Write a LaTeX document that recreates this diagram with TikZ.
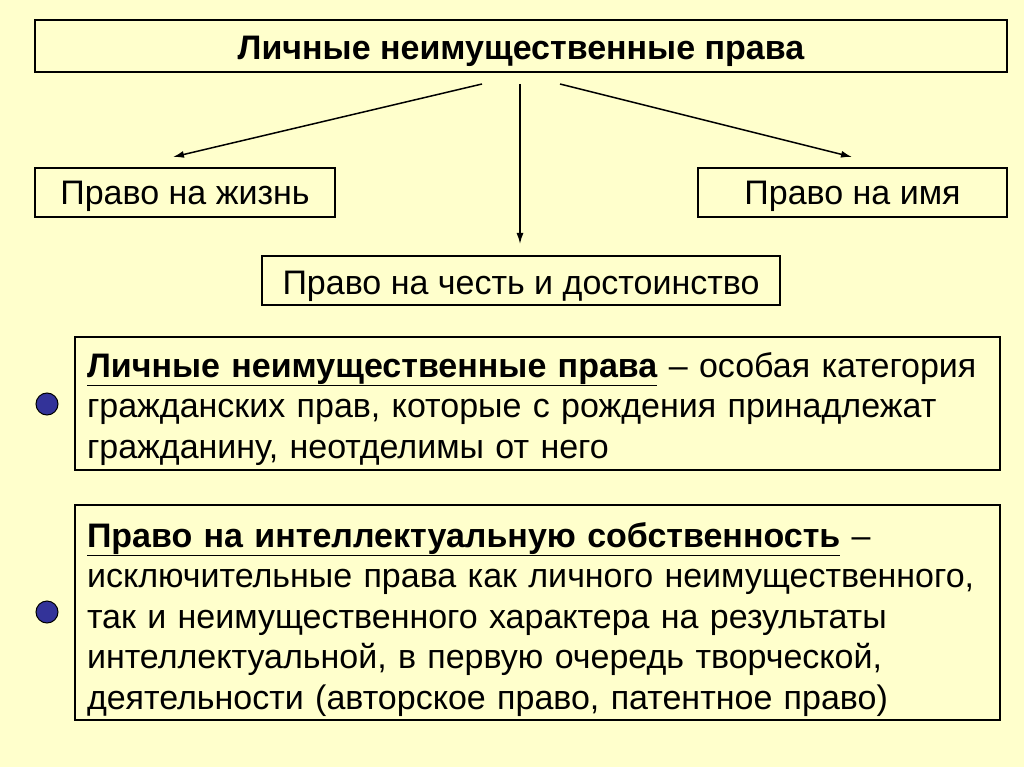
\documentclass[tikz,border=0pt]{standalone}
\usepackage{fontspec}
\setmainfont{Liberation Sans}
\usetikzlibrary{positioning, arrows.meta}
\definecolor{paper}{RGB}{255,255,204}
\definecolor{dot}{RGB}{51,51,153}
\newcommand{\boxh}{49pt}

\begin{document}
\begin{tikzpicture}[x=1pt, y=-1pt]
  \tikzset{frame/.style={draw, line width=1.6pt, fill=paper, inner sep=0pt, text depth=0pt, text height=25pt, font=\fontsize{34}{40.5}\selectfont}}
  \tikzset{textframe/.style={frame, inner xsep=12pt, align=left, text width=901pt}}
  \tikzset{bullet/.style={circle, draw, line width=1pt, fill=dot, minimum size=22pt, inner sep=0pt}}
  \tikzset{link/.style={-{Latex[length=11pt, width=7pt]}, line width=1.5pt}}
  \fill[paper] (0,0) rectangle (1024,767);
  \useasboundingbox (0,0) rectangle (1024,767);
  \node[frame, minimum width=972pt, minimum height=52pt, text height=27pt] (rights) at (521,46) {\textbf{Личные неимущественные права}};
  \node[frame, minimum width=300pt, minimum height=\boxh] (life) at (185,192.5) {Право на жизнь};
  \node[frame, minimum width=309pt, minimum height=\boxh] (name) at (852.5,192.5) {Право на имя};
  \node[frame, minimum width=518pt, minimum height=\boxh, text height=27pt] (honor) at (521,280.5) {Право на честь и достоинство};
  \node[textframe, minimum height=133pt, text depth=78pt] (personal) at (537.5,403.5)
    {\underline{\textbf{Личные неимущественные права}} – особая категория\\
     гражданских прав, которые с рождения принадлежат\\
     гражданину, неотделимы от него};
  \node[textframe, minimum height=215pt, text depth=156pt] (intellect) at (537.5,612.5)
    {\underline{\textbf{Право на интеллектуальную собственность}} –\\
     исключительные права как личного неимущественного,\\
     так и неимущественного характера на результаты\\
     интеллектуальной, в первую очередь творческой,\\
     деятельности (авторское право, патентное право)};
  \node[bullet] (dotone) at (47,404) {};
  \node[bullet] (dottwo) at (47,612) {};
  \coordinate (fromleft) at (482,84);
  \coordinate (frommid) at (520,84);
  \coordinate (fromright) at (560,84);
  \coordinate (toleft) at (173,157);
  \coordinate (tomid) at (520,244);
  \coordinate (toright) at (852,157);
  \draw[link] (fromleft) -- (toleft);
  \draw[link] (frommid) -- (tomid);
  \draw[link] (fromright) -- (toright);
\end{tikzpicture}
\end{document}
